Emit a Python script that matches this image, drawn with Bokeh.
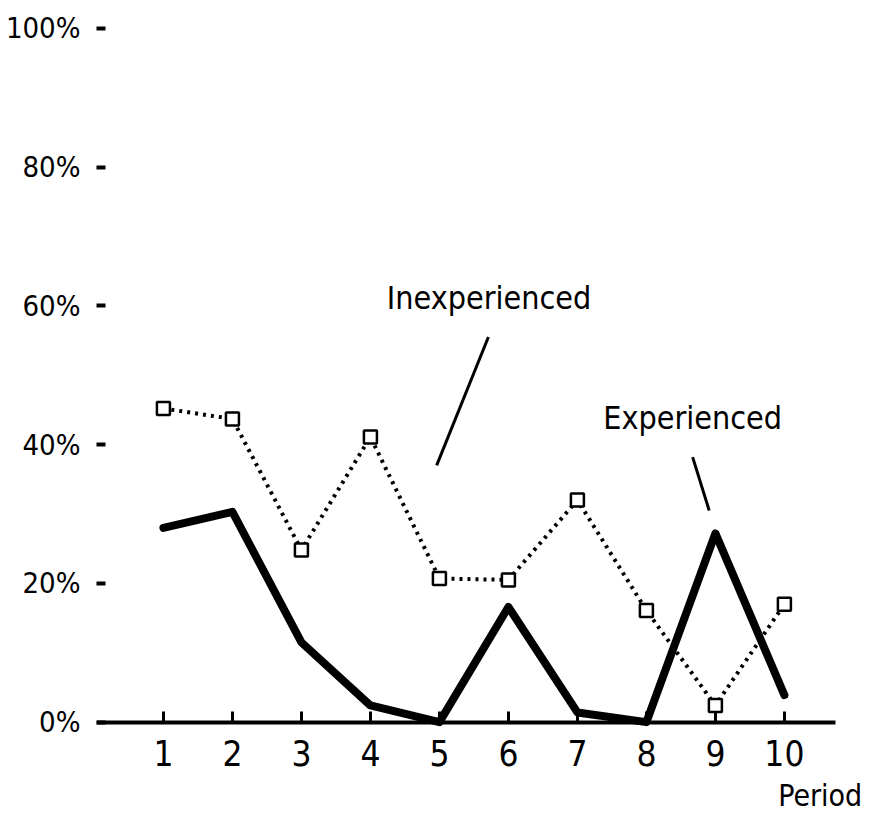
from bokeh.plotting import figure
from bokeh.models import Range1d, FixedTicker, LinearAxis
from bokeh.core.properties import value
from bokeh.embed import file_html
from bokeh.resources import INLINE

# ---- data ----
periods = [1, 2, 3, 4, 5, 6, 7, 8, 9, 10]
inexperienced = [45.2, 43.7, 24.8, 41.1, 20.7, 20.5, 32.0, 16.1, 2.4, 17.0]
experienced = [28.0, 30.3, 11.5, 2.4, 0.0, 16.6, 1.4, 0.0, 27.2, 3.9]
y_ticks = [0, 20, 40, 60, 80, 100]
y_tick_labels = ["0%", "20%", "40%", "60%", "80%", "100%"]
x_ticks = [0, 1, 2, 3, 4, 5, 6, 7, 8, 9, 10]
x_label = "Period"
series_names = ["Inexperienced", "Experienced"]

FONT = "DejaVu Sans Condensed, Roboto, DejaVu Sans"

p = figure(width=866, height=816, output_backend="svg", toolbar_location=None,
           x_range=Range1d(0.03, 11.19), y_range=Range1d(-13.6, 104.0),
           x_axis_location=None, y_axis_location=None,
           min_border_left=96, min_border_right=0, min_border_top=0, min_border_bottom=0)
p.outline_line_color = None
p.grid.visible = False
p.background_fill_color = "white"
p.border_fill_color = "white"

# y axis: labels with small dashes
yax = LinearAxis(ticker=FixedTicker(ticks=y_ticks),
                 major_label_overrides={t: l for t, l in zip(y_ticks, y_tick_labels)})
yax.axis_line_color = None
yax.major_tick_in = 9
yax.major_tick_out = 0
yax.major_tick_line_width = 4
yax.major_tick_line_color = "black"
yax.minor_tick_line_color = None
yax.major_label_standoff = 16
yax.major_label_text_font = FONT
yax.major_label_text_font_size = "29px"
yax.major_label_text_color = "black"
p.add_layout(yax, "left")

# x axis at y = 0
xax = LinearAxis(ticker=FixedTicker(ticks=x_ticks),
                 major_label_overrides={0: ""}, fixed_location=0, bounds=(0.014, 10.74))
xax.axis_line_width = 4
xax.axis_line_color = "black"
xax.major_tick_in = 11
xax.major_tick_out = 0
xax.major_tick_line_width = 3
xax.major_tick_line_color = "black"
xax.minor_tick_line_color = None
xax.major_label_standoff = 18
xax.major_label_text_font = FONT
xax.major_label_text_font_size = "35px"
xax.major_label_text_color = "black"
p.add_layout(xax, "below")

# series
p.line(periods, inexperienced, line_color="black", line_width=4, line_dash="3 5")
p.scatter(periods, inexperienced, marker="square", size=13, fill_color="white",
          line_color="black", line_width=2.5)
p.line(periods, experienced, line_color="black", line_width=8, line_join="round", line_cap="round")

# annotations
p.text(x=[5.72], y=[61.1], text=[series_names[0]], text_font=value(FONT), text_font_size="32px",
       text_align="center", text_baseline="alphabetic", text_color="black")
p.segment(x0=[5.71], y0=[55.5], x1=[4.96], y1=[37.0], line_color="black", line_width=3)
p.text(x=[8.67], y=[43.8], text=[series_names[1]], text_font=value(FONT), text_font_size="32px",
       text_align="center", text_baseline="alphabetic", text_color="black")
p.segment(x0=[8.67], y0=[38.2], x1=[8.91], y1=[30.5], line_color="black", line_width=3)
p.text(x=[9.91], y=[-10.6], text=[x_label], text_font=value(FONT), text_font_size="30px",
       text_align="left", text_baseline="alphabetic", text_color="black")

open("out.html", "w").write(file_html(p, INLINE))
